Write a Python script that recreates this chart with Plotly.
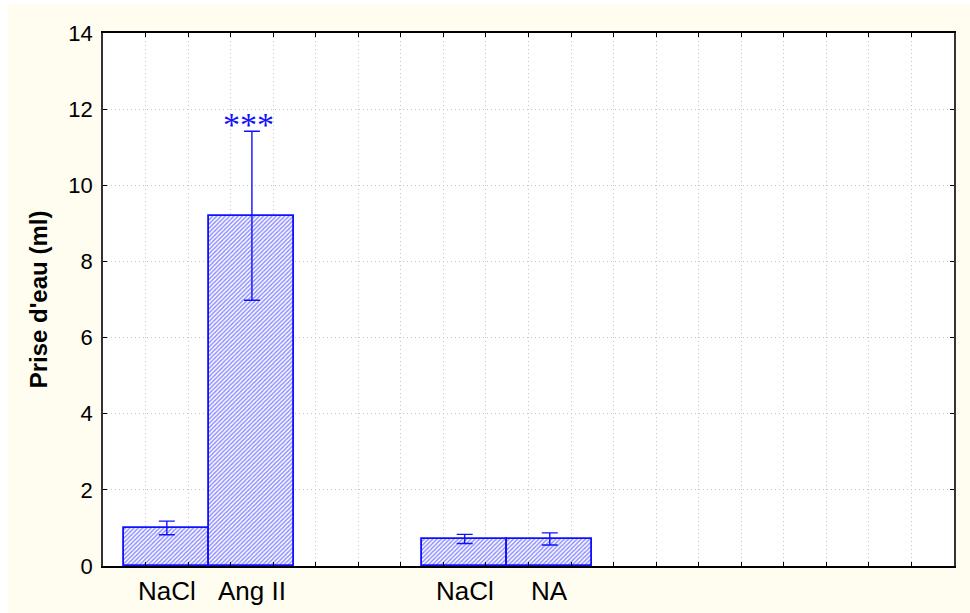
import plotly.graph_objects as go

# Data
categories = ["NaCl", "Ang II", "NaCl", "NA"]
positions = [1.5, 3.5, 8.5, 10.5]
means = [1.0, 9.2, 0.71, 0.71]
errors = [0.18, 2.22, 0.12, 0.16]
y_ticks = [0, 2, 4, 6, 8, 10, 12, 14]
signif_label = "***"
signif_index = 1

W, H = 970, 613
L, R, T, B = 103, 16, 33, 47
pw = W - L - R
ph = H - T - B

fig = go.Figure()
fig.add_trace(go.Bar(
    x=positions, y=means, width=2,
    marker=dict(color="white",
                line=dict(color="#1010ff", width=1.8),
                pattern=dict(shape="/", fgcolor="#2020ff", bgcolor="white",
                             size=3, solidity=0.5)),
    error_y=dict(type="data", array=errors, visible=True,
                 color="#1010ff", thickness=1.4, width=8),
    showlegend=False,
))

annotations = []
for p, c in zip(positions, categories):
    annotations.append(dict(x=p, y=0, xref="x", yref="paper", text=c,
                            showarrow=False, yanchor="top", yshift=-8,
                            font=dict(family="Arial, Liberation Sans", size=26, color="black")))
annotations.append(dict(x=positions[signif_index], y=means[signif_index] + errors[signif_index],
                        xref="x", yref="y", text=signif_label, showarrow=False,
                        yanchor="bottom", yshift=-14, xshift=-3,
                        font=dict(family="Liberation Serif, Times New Roman", size=34, color="#1010ff")))

fig.update_layout(
    width=W, height=H,
    margin=dict(l=L, r=R, t=T, b=B, pad=0),
    paper_bgcolor="#FFFDF0",
    plot_bgcolor="white",
    font=dict(family="Arial, Liberation Sans", color="black"),
    bargap=0,
    annotations=annotations,
    shapes=[
        dict(type="rect", xref="paper", yref="paper", layer="above",
             x0=-L / pw, x1=(8 - L) / pw, y0=-B / ph, y1=1 + T / ph,
             fillcolor="white", line=dict(width=0)),
        dict(type="rect", xref="paper", yref="paper", layer="above",
             x0=-L / pw, x1=1 + R / pw, y0=1 + (T - 4) / ph, y1=1 + T / ph,
             fillcolor="white", line=dict(width=0)),
    ],
    xaxis=dict(range=[0, 20], tickvals=list(range(0, 21)), ticktext=[""] * 21,
               showgrid=True, gridcolor="#c4c4c4", griddash="1px,3px", gridwidth=1,
               showline=True, linecolor="black", linewidth=1.5, mirror="ticks",
               ticks="inside", ticklen=4, tickcolor="black", zeroline=False),
    yaxis=dict(range=[0, 14], tickvals=y_ticks,
               showgrid=True, gridcolor="#c4c4c4", griddash="1px,3px", gridwidth=1,
               showline=True, linecolor="#333333", linewidth=1.5, mirror="ticks",
               ticks="inside", ticklen=4, tickcolor="black", zeroline=False,
               tickfont=dict(size=22), ticklabelstandoff=4,
               title=dict(text="<b>Prise d'eau (ml)</b>", font=dict(size=24), standoff=14)),
)

fig.write_html("out.html")
